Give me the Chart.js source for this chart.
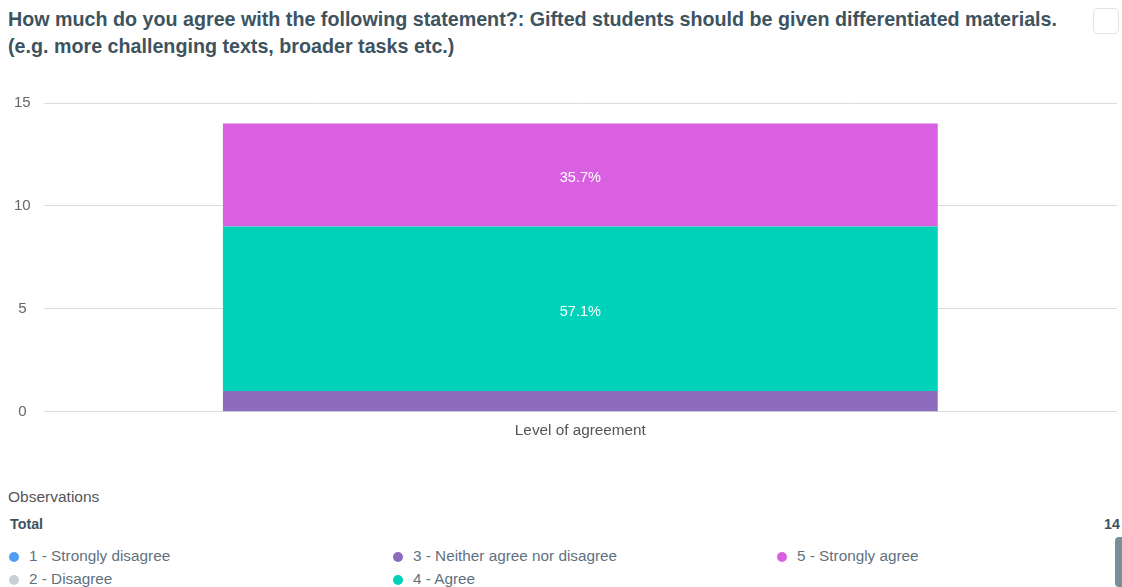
<!DOCTYPE html>
<html>
<head>
<meta charset="utf-8">
<script src="https://cdn.jsdelivr.net/npm/chart.js@4.4.0/dist/chart.umd.min.js"></script>
<style>
  body { margin: 0; width: 1122px; height: 587px; overflow: hidden; background: #fff; font-family: "Liberation Sans", Arial, sans-serif; position: relative; }
  #title { position: absolute; left: 8px; top: 6px; width: 1080px; font-size: 19.7px; font-weight: bold; color: #3d5360; line-height: 27px; white-space: nowrap; }
  #box { position: absolute; left: 1093px; top: 8px; width: 24px; height: 24px; border: 1px solid #dde3e6; border-radius: 5px; }
  #wrap { position: absolute; left: 0; top: 81px; width: 1122px; height: 361px; }
  #obs { position: absolute; left: 8px; top: 488px; font-size: 15.5px; color: #555; }
  #total { position: absolute; left: 10px; top: 516px; font-size: 14.3px; font-weight: bold; color: #3d5360; }
  #totalVal { position: absolute; right: 2px; top: 516px; font-size: 14.3px; font-weight: bold; color: #3d5360; }
  #legend { position: absolute; left: 9px; top: 547px; width: 1110px; }
  .item { position: absolute; font-size: 15.3px; color: #5f7180; white-space: nowrap; }
  .dot { display: inline-block; width: 10px; height: 10px; border-radius: 50%; margin-right: 10px; vertical-align: -1px; }
  #scroll { position: absolute; left: 1115px; top: 537px; width: 8px; height: 50px; background: #778f98; border-radius: 4px 0 0 4px; }
</style>
</head>
<body>
<div id="title">How much do you agree with the following statement?: Gifted students should be given differentiated materials.<br>(e.g. more challenging texts, broader tasks etc.)</div>
<div id="box"></div>
<div id="wrap"><canvas id="myChart"></canvas></div>
<div id="obs">Observations</div>
<div id="total">Total</div>
<div id="totalVal"></div>
<div id="legend"></div>
<div id="scroll"></div>
<script>
var categories = ["Level of agreement"];
var answers = ["1 - Strongly disagree", "2 - Disagree", "3 - Neither agree nor disagree", "4 - Agree", "5 - Strongly agree"];
var counts = [0, 0, 1, 8, 5];
var colors = ['#4e9ef5', '#c8d0d6', '#8d6bbd', '#00d2b9', '#d960e0'];
var yTicks = [0, 5, 10, 15];

var total = counts.reduce(function (a, b) { return a + b; }, 0);
document.getElementById("totalVal").textContent = total;

// legend, 3 columns, filled column by column
var legend = document.getElementById("legend");
answers.forEach(function (name, i) {
  var el = document.createElement("div");
  el.className = "item";
  el.style.left = (Math.floor(i / 2) * 384) + "px";
  el.style.top = ((i % 2) * 23) + "px";
  el.innerHTML = '<span class="dot" style="background:' + colors[i] + '"></span>' + name;
  legend.appendChild(el);
});

var pctLabels = {
  id: 'pctLabels',
  afterDatasetsDraw: function (chart) {
    var ctx = chart.ctx;
    ctx.save();
    ctx.fillStyle = '#fff';
    ctx.font = '14.5px "Liberation Sans", Arial, sans-serif';
    ctx.textAlign = 'center';
    ctx.textBaseline = 'middle';
    chart.data.datasets.forEach(function (ds, i) {
      chart.getDatasetMeta(i).data.forEach(function (bar, j) {
        var v = ds.data[j];
        if (!v || v / total < 0.1) return;
        ctx.fillText((v / total * 100).toFixed(1) + '%', bar.x, (bar.y + bar.base) / 2 + 3);
      });
    });
    ctx.restore();
  }
};

var ctx = document.getElementById("myChart");
var myChart = new Chart(ctx, {
  type: 'bar',
  data: {
    labels: categories,
    datasets: answers.map(function (name, i) {
      return { label: name, data: [counts[i]], backgroundColor: colors[i], categoryPercentage: 1, barPercentage: 0.666 };
    }),
  },
  options: {
    responsive: true,
    maintainAspectRatio: false,
    animation: false,
    layout: { padding: { left: 1, right: 5, top: 4, bottom: 0 } },
    plugins: { legend: { display: false }, tooltip: { enabled: false } },
    scales: {
      x: {
        stacked: true,
        grid: { display: false },
        border: { display: false },
        ticks: { color: '#555', font: { size: 15.3, family: '"Liberation Sans", Arial, sans-serif' }, padding: 2 }
      },
      y: {
        stacked: true,
        min: 0, max: 15,
        afterBuildTicks: function (axis) { axis.ticks = yTicks.map(function (v) { return { value: v }; }); },
        grid: { color: '#dcdcdc', drawTicks: false },
        border: { display: false },
        ticks: { color: '#666', crossAlign: 'center', padding: 13, font: { size: 15, family: '"Liberation Sans", Arial, sans-serif' } }
      }
    }
  },
  plugins: [pctLabels]
});
</script>
</body>
</html>
